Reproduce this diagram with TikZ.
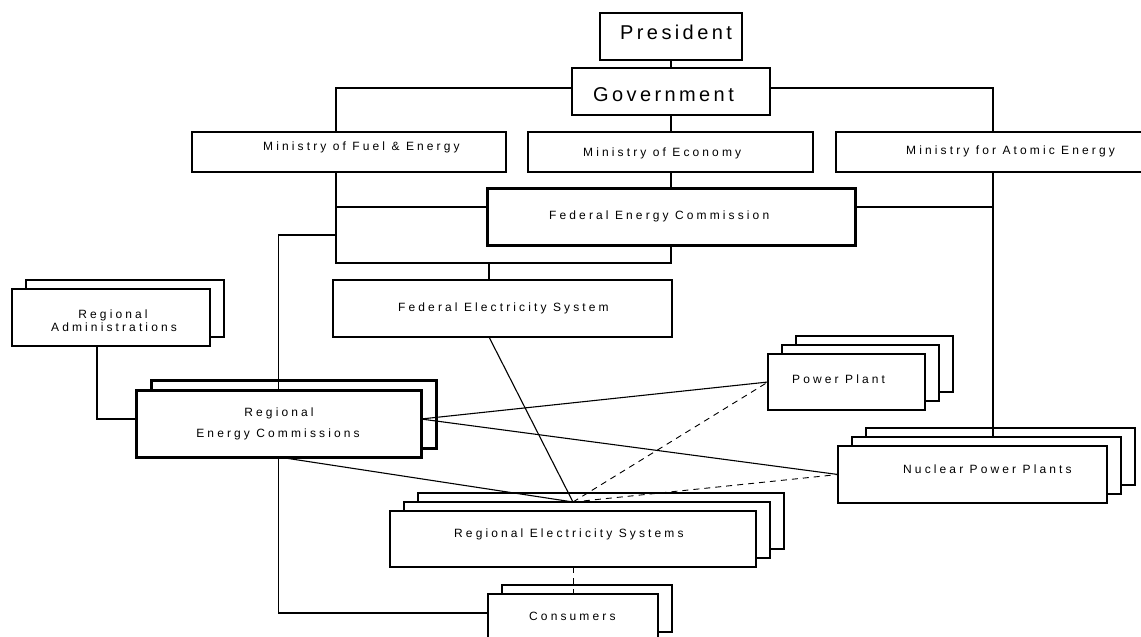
\documentclass[tikz,border=0pt]{standalone}
\usepackage{fontspec}
\setmainfont{Liberation Sans}
\newfontfamily\smallf[LetterSpace=26]{Liberation Sans}
\newfontfamily\bigf[LetterSpace=17]{Liberation Sans}
\newcommand\mkbox[6]{\node[#1, minimum width={#4-#2}, minimum height={#5-#3}] (#6) at ({(#2+#4)/2},{(#3+#5)/2}) {};}
\tikzset{
  bx/.style={draw, fill=white, line width=1.1pt, inner sep=0pt, outer sep=0pt},
  thk/.style={bx, line width=2.2pt},
  thkk/.style={bx, line width=3pt},
  ln/.style={line width=1.1pt},
  dsh/.style={line width=0.9pt, dash pattern=on 6pt off 5pt},
  st/.style={font={\smallf\fontsize{12}{14}\selectfont}, inner sep=0pt, anchor=base west},
  stc/.style={st, anchor=base},
  bt/.style={font={\bigf\fontsize{20}{24}\selectfont}, inner sep=0pt, anchor=base west},
}
\begin{document}
\begin{tikzpicture}[x=1pt,y=-1pt]
\fill[white] (0,0) rectangle (1141,637);
\useasboundingbox (0,0) rectangle (1141,637);
% boxes
\mkbox{bx}{600}{13}{742}{60}{pres}
\mkbox{bx}{572}{68}{770}{115}{gov}
\mkbox{thk}{192}{132}{506}{172}{mfe}
\mkbox{thk}{528}{132}{813}{172}{meco}
\mkbox{thk}{836}{132}{1150}{172}{mae}
\mkbox{thkk}{487}{188}{855}{245}{fec}
\mkbox{bx}{333}{280}{672}{337}{fes}
\mkbox{bx}{26}{280}{224}{337}{ra2}
\mkbox{bx}{12}{289}{210}{346}{ra}
\mkbox{thkk}{151}{380}{436}{448}{rec2}
\mkbox{thkk}{136}{390}{421}{457}{rec}
\mkbox{bx}{796}{336}{953}{392}{pp3}
\mkbox{bx}{782}{345}{939}{401}{pp2}
\mkbox{bx}{768}{354}{925}{410}{pp}
\mkbox{bx}{866}{428}{1135}{485}{nuc3}
\mkbox{bx}{852}{437}{1121}{494}{nuc2}
\mkbox{bx}{838}{446}{1107}{503}{nuc}
\mkbox{bx}{418}{493}{784}{549}{res3}
\mkbox{bx}{404}{502}{770}{558}{res2}
\mkbox{bx}{390}{511}{756}{567}{res}
\mkbox{bx}{502}{585}{672}{632}{cons2}
\mkbox{bx}{488}{594}{658}{645}{cons}
% texts
\node[bt] (t-pres) at (620,39) {President};
\node[bt] (t-gov) at (593,101) {Government};
\node[st] (t-mfe) at (263,150) {Ministry of Fuel \& Energy};
\node[st] (t-meco) at (583,156) {Ministry of Economy};
\node[st] (t-mae) at (906,154) {Ministry for Atomic Energy};
\node[st] (t-fec) at (549,219) {Federal Energy Commission};
\node[st] (t-fes) at (398,311) {Federal Electricity System};
\node[stc] (t-ra1) at (113,318) {Regional};
\node[stc] (t-ra2) at (114,331) {Administrations};
\node[stc] (t-rec1) at (279,416) {Regional};
\node[stc] (t-rec2) at (278,437) {Energy Commissions};
\node[st] (t-pp) at (792,383) {Power Plant};
\node[st] (t-nuc) at (903,473) {Nuclear Power Plants};
\node[st] (t-res) at (454,537) {Regional Electricity Systems};
\node[st] (t-cons) at (529,620) {Consumers};
% junction coordinates
\coordinate (s1) at (335,207);
\coordinate (s2) at (335,235);
\coordinate (s3) at (489,263);
\coordinate (r1) at (993,207);
\coordinate (J) at (573,502);
% connectors
\draw[ln] (pres.south) -- (gov.north);
\draw[ln] ([yshift=3.5pt]gov.west) -| ([xshift=-13pt]mfe.north);
\draw[ln] ([yshift=3.5pt]gov.east) -| (mae.north);
\draw[ln] (gov.south) -- (gov.south |- meco.north);
\draw[ln] (gov.south |- meco.south) -- (gov.south |- fec.north);
\draw[ln] ([xshift=-13pt]mfe.south) |- ([yshift=-18pt]fec.south) -- (fec.south);
\draw[ln] (s1) -- ([yshift=9.5pt]fec.west);
\draw[ln] (s2) -| (rec.north);
\draw[ln] (s3) -- (s3 |- fes.north);
\draw[ln] ([yshift=9.5pt]fec.east) -- (r1);
\draw[ln] (mae.south) -- (mae.south |- nuc2.north);
\draw[ln] ([xshift=-14pt]ra.south) |- ([yshift=4.5pt]rec.west);
\draw[ln] (rec.south) |- ([yshift=6.5pt]cons.west);
\draw[ln] (rec.south) -- (J);
\draw[ln] ([xshift=-13.5pt]fes.south) -- (J);
\draw[ln] ([yshift=4.5pt]rec.east) -- (pp.west);
\draw[ln] ([yshift=4.5pt]rec.east) -- (nuc.west);
\draw[dsh] (J) -- (pp.west);
\draw[dsh] (J) -- (nuc.west);
\draw[dsh] (res.south) -- (cons.north);
\end{tikzpicture}
\end{document}
